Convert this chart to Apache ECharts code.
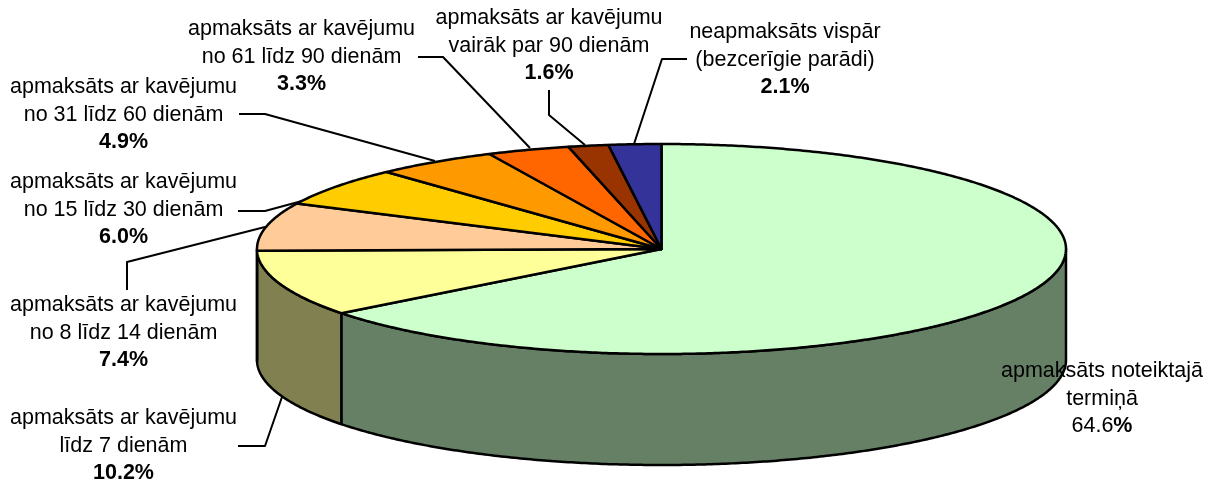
<!DOCTYPE html>
<html>
<head>
<meta charset="utf-8">
<style>html,body{margin:0;padding:0;background:#fff}#c{width:1220px;height:481px}</style>
<script src="https://cdn.jsdelivr.net/npm/echarts@6/dist/echarts.min.js"></script>
</head>
<body>
<div id="c"></div>
<script>
const categories = [
  'apmaksāts noteiktajā\ntermiņā',
  'apmaksāts ar kavējumu\nlīdz 7 dienām',
  'apmaksāts ar kavējumu\nno 8 līdz 14 dienām',
  'apmaksāts ar kavējumu\nno 15 līdz 30 dienām',
  'apmaksāts ar kavējumu\nno 31 līdz 60 dienām',
  'apmaksāts ar kavējumu\nno 61 līdz 90 dienām',
  'apmaksāts ar kavējumu\nvairāk par 90 dienām',
  'neapmaksāts vispār\n(bezcerīgie parādi)'
];
const values = [64.6, 10.2, 7.4, 6.0, 4.9, 3.3, 1.6, 2.1];
const topColors = ['#CCFFCC', '#FFFF99', '#FFCC99', '#FFCC00', '#FF9900', '#FF6600', '#993300', '#333399'];
const sideColors = ['#668066', '#808050', '#80664D', '#806600', '#804D00', '#803300', '#4D1A00', '#1A1A4D'];

// Layout of the drawing, separate from the data
const pie = { cx: 661.5, cy: 249, rx: 404.5, ry: 105, depth: 111 };
const labelCenters = [[1102, 399], [123.5, 446], [123.5, 333], [123.5, 210], [123.5, 115], [301.5, 57], [549, 46], [785, 60]];
const leaders = [
  null,
  [[238, 446], [265, 446], [282, 397]],
  [[127, 290], [127, 262], [265, 227]],
  [[238, 211], [265, 211], [302, 201]],
  [[239, 114], [265, 114], [435, 161]],
  [[418, 57], [443, 57], [530, 148]],
  [[549, 90], [549, 115], [585, 145]],
  [[687, 59], [662, 59], [634, 144]]
];
const total = values.reduce((a, b) => a + b, 0);
const FONT = '"Liberation Sans", Arial, sans-serif';

function rim(a, dy) {
  return [pie.cx + pie.rx * Math.sin(a), pie.cy - pie.ry * Math.cos(a) + (dy || 0)];
}
function arc(a0, a1, dy) {
  const n = Math.max(2, Math.ceil((a1 - a0) / (Math.PI / 360)));
  const pts = [];
  for (let i = 0; i <= n; i++) pts.push(rim(a0 + (a1 - a0) * i / n, dy));
  return pts;
}
const line = (points, z2) => ({
  type: 'polyline', z2, silent: true, shape: { points },
  style: { stroke: '#000', lineWidth: 2, fill: null, lineJoin: 'round' }
});

function renderItem(params, api) {
  const i = params.dataIndex;
  const v = api.value(1), before = api.value(2);
  const a0 = before / total * 2 * Math.PI, a1 = (before + v) / total * 2 * Math.PI;
  const children = [];
  // wall: only the front half of the rim is visible
  const s0 = Math.max(a0, Math.PI / 2), s1 = Math.min(a1, 3 * Math.PI / 2);
  if (s1 > s0) {
    const t = arc(s0, s1, 0), b = arc(s0, s1, pie.depth).reverse();
    children.push({ type: 'polygon', z2: 1, shape: { points: t.concat(b) },
      style: { fill: sideColors[i], stroke: '#000', lineWidth: 2.5, lineJoin: 'round' } });
  }
  // top face
  children.push({ type: 'polygon', z2: 2, shape: { points: [[pie.cx, pie.cy]].concat(arc(a0, a1, 0)) },
    style: { fill: topColors[i], stroke: '#000', lineWidth: 2.5, lineJoin: 'round' } });
  if (leaders[i]) children.push(line(leaders[i], 3));
  // label
  const lines = categories[i].split('\n').map(s => '{n|' + s + '}');
  const num = v.toFixed(1);
  lines.push(i === 0 ? '{n|' + num + '}{b|%}' : '{b|' + num + '%}');
  const c = labelCenters[i];
  children.push({ type: 'text', z2: 4, x: c[0], y: c[1], silent: true,
    style: { text: lines.join('\n'), align: 'center', verticalAlign: 'middle', fill: '#000',
      rich: {
        n: { font: '21.5px ' + FONT, lineHeight: 27.5, fill: '#000' },
        b: { font: 'bold 21.5px ' + FONT, lineHeight: 27.5, fill: '#000' }
      } } });
  return { type: 'group', children };
}

let run = 0;
const seriesData = values.map((v, i) => { const d = [i, v, run]; run += v; return d; });

const chart = echarts.init(document.getElementById('c'), null, { renderer: 'canvas' });
chart.setOption({
  animation: false,
  backgroundColor: '#fff',
  series: [{ type: 'custom', coordinateSystem: 'none', renderItem, data: seriesData, silent: true, clip: false }]
});
</script>
</body>
</html>
